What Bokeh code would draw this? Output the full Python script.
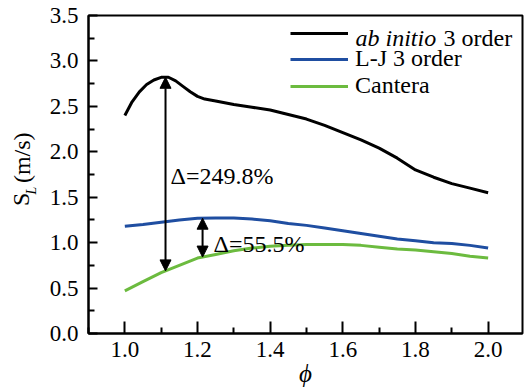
import numpy as np
from bokeh.plotting import figure
from bokeh.layouts import row
from bokeh.models import (Range1d, Legend, LegendItem, Label, Arrow, NormalHead,
                          FixedTicker)
from bokeh.core.properties import value
from bokeh.embed import file_html
from bokeh.resources import INLINE

# ---------------- data ----------------
phi_ab = [1.00, 1.02, 1.04, 1.06, 1.08, 1.10, 1.12, 1.14, 1.16, 1.18, 1.20, 1.22,
          1.25, 1.30, 1.35, 1.40, 1.45, 1.50, 1.55, 1.60, 1.65, 1.70, 1.75, 1.80,
          1.85, 1.90, 1.95, 2.00]
sl_ab = [2.40, 2.55, 2.66, 2.74, 2.79, 2.82, 2.82, 2.78, 2.72, 2.66, 2.61, 2.58,
         2.56, 2.52, 2.49, 2.46, 2.41, 2.36, 2.29, 2.21, 2.13, 2.04, 1.93, 1.80,
         1.72, 1.65, 1.60, 1.55]

phi_lj = [1.00, 1.05, 1.10, 1.15, 1.20, 1.25, 1.30, 1.35, 1.40, 1.45, 1.50, 1.55,
          1.60, 1.65, 1.70, 1.75, 1.80, 1.85, 1.90, 1.95, 2.00]
sl_lj = [1.18, 1.20, 1.225, 1.248, 1.268, 1.272, 1.27, 1.26, 1.24, 1.21, 1.19, 1.16,
         1.13, 1.10, 1.07, 1.04, 1.02, 1.00, 0.99, 0.97, 0.94]

phi_ct = [1.00, 1.05, 1.10, 1.15, 1.20, 1.25, 1.30, 1.35, 1.40, 1.45, 1.50, 1.55,
          1.60, 1.65, 1.70, 1.75, 1.80, 1.85, 1.90, 1.95, 2.00]
sl_ct = [0.47, 0.57, 0.67, 0.75, 0.83, 0.87, 0.91, 0.94, 0.96, 0.97, 0.98, 0.98,
         0.98, 0.97, 0.95, 0.93, 0.92, 0.90, 0.88, 0.85, 0.83]

series_labels = ["ab initio", "3 order", "L-J 3 order", "Cantera"]

# difference arrows: phi position and annotation text
arrow_phi = [1.112, 1.214]
arrow_texts = ["\u0394=249.8%", "\u0394=55.5%"]
arrow_text_y = [1.73, 0.99]

x_ticks = [1.0, 1.2, 1.4, 1.6, 1.8, 2.0]
x_tick_labels = ["1.0", "1.2", "1.4", "1.6", "1.8", "2.0"]
x_minor = [0.9, 1.1, 1.3, 1.5, 1.7, 1.9]
y_ticks = [0.0, 0.5, 1.0, 1.5, 2.0, 2.5, 3.0, 3.5]
y_tick_labels = ["0.0", "0.5", "1.0", "1.5", "2.0", "2.5", "3.0", "3.5"]
y_minor = [0.25, 0.75, 1.25, 1.75, 2.25, 2.75, 3.25]

x_title = "\u03d5"
y_title = ["S", "L", "(m/s)"]

FONT = "Liberation Serif"
BLUE = "#1f4ea1"
GREEN = "#6cbb3f"

# ---------------- y-axis title panel ----------------
LW = 40
lab = figure(width=LW, height=389, output_backend="svg", toolbar_location=None,
             title=None, x_axis_location=None, y_axis_location=None,
             x_range=Range1d(0, LW), y_range=Range1d(0, 389), min_border=0)
lab.grid.visible = False
lab.outline_line_color = None
ang = np.pi / 2
lab.text(x=[20], y=[156], text=[y_title[0]], angle=ang, text_align="left",
         text_baseline="middle", text_font=value(FONT), text_font_size="24px",
         text_color="black")
lab.text(x=[31], y=[170], text=[y_title[1]], angle=ang, text_align="left",
         text_baseline="middle", text_font=value(FONT), text_font_size="14px",
         text_font_style="italic", text_color="black")
lab.text(x=[21], y=[184], text=[y_title[2]], angle=ang, text_align="left",
         text_baseline="middle", text_font=value(FONT), text_font_size="24px",
         text_color="black")

# ---------------- main plot ----------------
p = figure(width=524 - LW, height=389, output_backend="svg", toolbar_location=None,
           x_range=Range1d(0.9, 2.0946), y_range=Range1d(0, 3.5),
           min_border_left=48, min_border_right=2, min_border_top=15,
           min_border_bottom=56)
p.grid.visible = False
p.outline_line_color = "black"
p.outline_line_width = 2

r_ab = p.line(phi_ab, sl_ab, line_color="black", line_width=3)
r_lj = p.line(phi_lj, sl_lj, line_color=BLUE, line_width=3)
r_ct = p.line(phi_ct, sl_ct, line_color=GREEN, line_width=3)

p.xaxis.ticker = FixedTicker(ticks=x_ticks, minor_ticks=x_minor)
p.xaxis.major_label_overrides = dict(zip(x_ticks, x_tick_labels))
p.yaxis.ticker = FixedTicker(ticks=y_ticks, minor_ticks=y_minor)
p.yaxis.major_label_overrides = dict(zip(y_ticks, y_tick_labels))
for ax in (p.xaxis[0], p.yaxis[0]):
    ax.axis_line_width = 2
    ax.major_tick_line_width = 2
    ax.minor_tick_line_width = 2
    ax.major_tick_out = 0
    ax.minor_tick_out = 0
    ax.major_label_text_font = FONT
    ax.major_label_text_font_size = "23px"
    ax.major_label_text_color = "black"
    ax.axis_label_text_font = FONT
    ax.axis_label_text_font_size = "25px"
    ax.axis_label_text_font_style = "italic"
    ax.axis_label_text_color = "black"
p.xaxis.major_tick_in = 12
p.xaxis.minor_tick_in = 6
p.yaxis.major_tick_in = 9
p.yaxis.minor_tick_in = 6
p.xaxis.major_label_standoff = 8
p.yaxis.major_label_standoff = 10
p.xaxis.axis_label = x_title
p.xaxis.axis_label_standoff = 0

# arrows between curves
upper_sets = [(phi_ab, sl_ab), (phi_lj, sl_lj)]
text_dx = [0.014, 0.03]
for ph, (ux, uy), txt, ty, dx in zip(arrow_phi, upper_sets, arrow_texts,
                                     arrow_text_y, text_dx):
    y_top = float(np.interp(ph, ux, uy))
    y_bot = float(np.interp(ph, phi_ct, sl_ct))
    p.add_layout(Arrow(x_start=ph, y_start=y_bot, x_end=ph, y_end=y_top,
                       line_width=2, line_color="black",
                       start=NormalHead(size=11, fill_color="black", line_color="black"),
                       end=NormalHead(size=11, fill_color="black", line_color="black")))
    p.add_layout(Label(x=ph + dx, y=ty, text=txt, text_align="left",
                       text_baseline="middle", text_font=FONT,
                       text_font_size="24px", text_color="black"))

# legend
legend = Legend(items=[LegendItem(label=" ", renderers=[r_ab]),
                       LegendItem(label=series_labels[2], renderers=[r_lj]),
                       LegendItem(label=series_labels[3], renderers=[r_ct])],
                location=(202, 234), padding=0, margin=0, spacing=0,
                glyph_width=58, glyph_height=24, label_height=24,
                label_standoff=7, border_line_color=None,
                background_fill_alpha=0,
                label_text_font=FONT, label_text_font_size="24px",
                label_text_color="black")
p.add_layout(legend)
p.add_layout(Label(x=267, y=296, x_units="screen", y_units="screen",
                   text=series_labels[0], text_align="left", text_baseline="middle",
                   text_font=FONT, text_font_size="24px", text_font_style="italic",
                   text_color="black"))
p.add_layout(Label(x=355, y=296, x_units="screen", y_units="screen",
                   text=series_labels[1], text_align="left", text_baseline="middle",
                   text_font=FONT, text_font_size="24px", text_color="black"))

layout = row(lab, p)
open("out.html", "w").write(file_html(layout, INLINE))
